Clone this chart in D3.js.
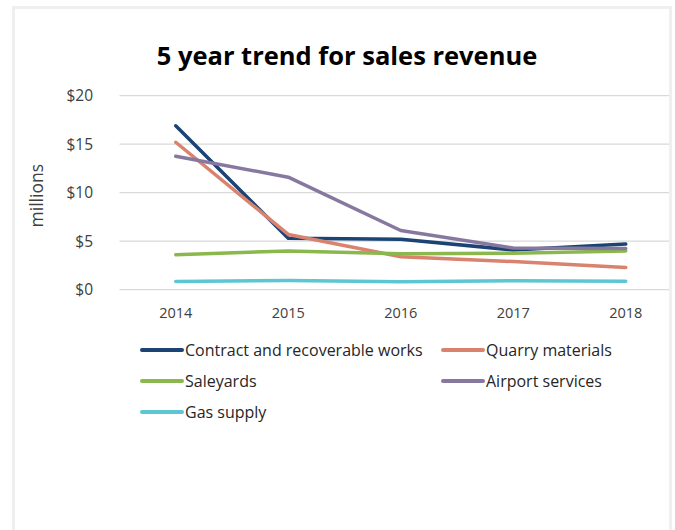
<!DOCTYPE html>
<html><head><meta charset="utf-8">
<script src="https://cdn.jsdelivr.net/npm/d3@7"></script>
<style>body{margin:0;background:#fff}svg{display:block}text{font-family:"Open Sans","Noto Sans",sans-serif}</style>
</head><body>
<script>
const years = ["2014","2015","2016","2017","2018"];
const seriesNames = ["Contract and recoverable works","Quarry materials","Saleyards","Airport services","Gas supply"];
const contractWorks = [16.9, 5.3, 5.2, 4.1, 4.7];
const quarryMaterials = [15.2, 5.7, 3.4, 2.9, 2.3];
const saleyards = [3.6, 4.0, 3.7, 3.75, 4.0];
const airportServices = [13.75, 11.6, 6.1, 4.3, 4.25];
const gasSupply = [0.85, 0.95, 0.82, 0.92, 0.87];
const yTicks = [0, 5, 10, 15, 20];
const yTickLabels = ["$0","$5","$10","$15","$20"];
const colors = ["#1b4373","#d9826e","#8ab84c","#8778a0","#5cc6d2"];

const seriesValues = [contractWorks, quarryMaterials, saleyards, airportServices, gasSupply];
const W = 675, H = 530;
const svg = d3.select("body").append("svg").attr("width", W).attr("height", H);

// frame
svg.append("rect").attr("x", 13.5).attr("y", 7.5).attr("width", 657).attr("height", 540)
  .attr("fill", "#fff").attr("stroke", "#efefef").attr("stroke-width", 3);

const x = d3.scaleBand().domain(years).range([119.5, 682]);
const y = d3.scaleLinear().domain([0, 20]).range([289.7, 95.7]);
const clipRight = 669;

// gridlines
svg.append("g").selectAll("line").data(yTicks).join("line")
  .attr("x1", x.range()[0]).attr("x2", Math.min(x.range()[1], clipRight))
  .attr("y1", d => y(d)).attr("y2", d => y(d))
  .attr("stroke", "#d9d9d9").attr("stroke-width", 1.3);

// y labels
svg.append("g").selectAll("text").data(yTicks).join("text")
  .attr("x", 93).attr("y", d => y(d)).attr("dy", "0.35em")
  .attr("text-anchor", "end").attr("font-size", 15.5).attr("fill", "#404040")
  .text((d, i) => yTickLabels[i]);

// x labels
svg.append("g").selectAll("text").data(years).join("text")
  .attr("x", d => x(d) + x.bandwidth() / 2).attr("y", 318)
  .attr("text-anchor", "middle").attr("font-size", 14.5).attr("fill", "#404040")
  .text(d => d);

// y title
svg.append("text").attr("transform", `translate(43,${(y(0) + y(20)) / 2 + 3}) rotate(-90)`)
  .attr("text-anchor", "middle").attr("font-size", 17.5).attr("fill", "#404040").text("millions");

// title
svg.append("text").attr("x", 347).attr("y", 65).attr("text-anchor", "middle")
  .attr("font-size", 25.5).attr("font-weight", "bold").attr("fill", "#000")
  .text("5 year trend for sales revenue");

// lines
const line = d3.line().x((d, i) => x(years[i]) + x.bandwidth() / 2).y(d => y(d));
svg.append("g").selectAll("path").data(seriesValues).join("path")
  .attr("d", d => line(d)).attr("fill", "none")
  .attr("stroke", (d, i) => colors[i]).attr("stroke-width", 3.5)
  .attr("stroke-linecap", "round").attr("stroke-linejoin", "round");

// legend
const legendPos = [[142, 350], [443, 350], [142, 381], [443, 381], [142, 412]];
const lg = svg.append("g").selectAll("g").data(seriesNames).join("g")
  .attr("transform", (d, i) => `translate(${legendPos[i][0]},${legendPos[i][1]})`);
lg.append("line").attr("x1", 0).attr("x2", 40).attr("y1", 0).attr("y2", 0)
  .attr("stroke", (d, i) => colors[i]).attr("stroke-width", 4).attr("stroke-linecap", "round");
lg.append("text").attr("x", 43).attr("y", 0).attr("dy", "0.35em")
  .attr("font-size", 16).attr("fill", "#262626").text(d => d);
</script>
</body></html>
